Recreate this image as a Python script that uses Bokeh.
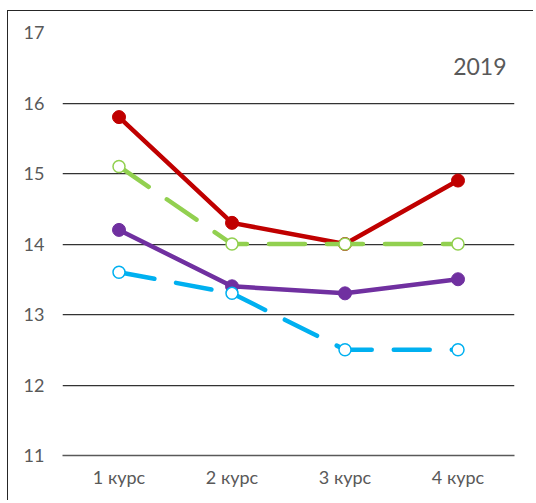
from bokeh.plotting import figure
from bokeh.models import Range1d, FixedTicker, Label
from bokeh.embed import file_html
from bokeh.resources import INLINE

courses = ["1 курс", "2 курс", "3 курс", "4 курс"]
red_vals = [15.8, 14.3, 14.0, 14.9]
green_vals = [15.1, 14.0, 14.0, 14.0]
purple_vals = [14.2, 13.4, 13.3, 13.5]
blue_vals = [13.6, 13.3, 12.5, 12.5]
y_ticks = [11, 12, 13, 14, 15, 16, 17]
year_label = "2019"

FONT = "Lato"
TXT = "#595959"

p = figure(x_range=courses, y_range=Range1d(11, 17), width=526, height=490,
           output_backend="svg", toolbar_location=None,
           min_border_left=54, min_border_right=20, min_border_top=21, min_border_bottom=46)
p.styles = {"border-left": "1px solid #262626", "border-top": "1px solid #262626",
            "margin-left": "7px", "margin-top": "10px"}
p.outline_line_color = None
p.background_fill_color = "white"
p.border_fill_color = "white"

p.xgrid.grid_line_color = None
p.ygrid.ticker = FixedTicker(ticks=y_ticks)
p.ygrid.grid_line_color = "#333333"
p.ygrid.grid_line_width = 1.25

p.yaxis.ticker = FixedTicker(ticks=y_ticks)
p.yaxis.axis_line_color = None
p.yaxis.major_tick_line_color = None
p.yaxis.minor_tick_line_color = None
p.yaxis.major_tick_in = 0
p.yaxis.major_tick_out = 0
p.yaxis.major_label_standoff = 18
p.yaxis.major_label_text_font = FONT
p.yaxis.major_label_text_font_size = "18px"
p.yaxis.major_label_text_color = TXT

p.xaxis.axis_line_color = "#595959"
p.xaxis.axis_line_width = 1.5
p.xaxis.major_tick_line_color = None
p.xaxis.major_tick_in = 0
p.xaxis.major_tick_out = 0
p.xaxis.major_label_standoff = 10
p.xaxis.major_label_text_font = FONT
p.xaxis.major_label_text_font_size = "18px"
p.xaxis.major_label_text_color = TXT

LW = 4.5
MS = 13
# red solid
p.line(courses, red_vals, line_color="#C00000", line_width=LW, line_join="round")
p.scatter(courses, red_vals, size=MS, fill_color="#C00000", line_color="#C00000")
# purple solid
p.line(courses, purple_vals, line_color="#7030A0", line_width=LW, line_join="round")
p.scatter(courses, purple_vals, size=MS, fill_color="#7030A0", line_color="#7030A0")
# green dashed
p.line(courses, green_vals, line_color="#92D050", line_width=LW, line_dash="36 22",
       line_cap="round", line_join="round")
p.scatter(courses, green_vals, size=MS - 1, fill_color="white", line_color="#92D050", line_width=1.5)
# blue dashed
p.line(courses, blue_vals, line_color="#00B0F0", line_width=LW, line_dash="36 22",
       line_cap="round", line_join="round")
p.scatter(courses, blue_vals, size=MS - 1, fill_color="white", line_color="#00B0F0", line_width=1.5)

p.add_layout(Label(x=4.0, y=16.52, text=year_label, x_offset=-8, text_align="right",
                   text_baseline="middle", text_font=FONT, text_font_size="23px",
                   text_color=TXT))

open("out.html", "w").write(file_html(p, INLINE))
